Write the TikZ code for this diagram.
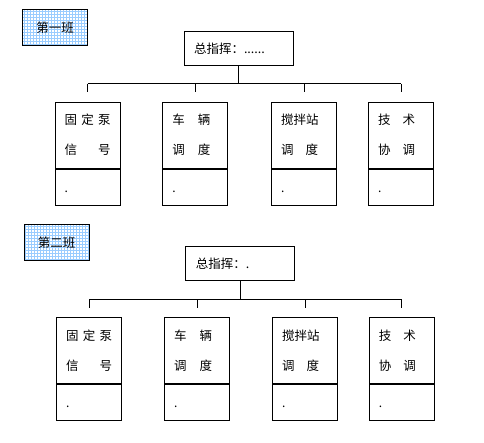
\documentclass[tikz,border=0pt]{standalone}
\usepackage{fontspec}
\setmainfont{Noto Sans CJK SC}
\usepackage{tikz}
\usetikzlibrary{positioning}
\usetikzlibrary{calc}
\definecolor{gridblue}{RGB}{153,204,255}
\tikzstyle{teambox}=[draw,line width=0.9pt,minimum width=65pt,minimum height=36pt,inner sep=0pt,font=\fontsize{12.5}{14}\selectfont,
  path picture={\draw[gridblue,line width=0.55pt,step=3pt] (path picture bounding box.south west) grid (path picture bounding box.north east);}]
\tikzstyle{headbox}=[draw,line width=0.9pt,minimum width=109pt,minimum height=34pt,text width=89pt,inner xsep=10pt,inner ysep=0pt,align=left,text height=11pt,text depth=1pt,font=\fontsize{12.5}{14}\selectfont]
\tikzstyle{jobbox}=[draw,line width=0.9pt,minimum width=65pt,minimum height=66pt,text width=46pt,inner xsep=9.5pt,inner ysep=0pt,align=left,font=\fontsize{12.5}{30}\selectfont]
\tikzstyle{notebox}=[draw,line width=0.9pt,minimum width=65pt,minimum height=36pt,text width=46pt,inner xsep=9.5pt,inner ysep=0pt,align=left,text height=10pt,text depth=0pt,font=\fontsize{12}{14}\selectfont]
\tikzstyle{wire}=[line width=0.9pt]

\begin{document}
\begin{tikzpicture}[x=1pt,y=-1pt]
\useasboundingbox (0,0) rectangle (484,442);

% first team
\node [teambox] (team1) at (55,27.3) {第一班};
\node [headbox] (head1) at (238.5,48) {总指挥：......};
\node [jobbox] (j11) at (87.7,135.2) {\makebox[46pt]{固\hfill 定\hfill 泵}\\ \makebox[46pt]{信\hfill 号}};
\node [jobbox] (j12) at (195.3,135.2) {\makebox[38pt]{车\hfill 辆}\\ \makebox[38pt]{调\hfill 度}};
\node [jobbox] (j13) at (304,135.2) {搅拌站\\ \makebox[37pt]{调\hfill 度}};
\node [jobbox] (j14) at (401,135.2) {\makebox[37pt]{技\hfill 术}\\ \makebox[37pt]{协\hfill 调}};
\node [notebox,below=0pt of j11] (n11) {.};
\node [notebox,below=0pt of j12] (n12) {.};
\node [notebox,below=0pt of j13] (n13) {.};
\node [notebox,below=0pt of j14] (n14) {.};

\coordinate (u11) at ([yshift=18pt]j11.north);
\coordinate (u14) at ([yshift=18pt]j14.north);
\draw [wire] (head1.south) -- (head1.south |- u11);
\draw [wire] (u11) -- (u14);
\foreach \i in {1,2,3,4}
  \draw [wire] ([yshift=18pt]j1\i.north) -- ([yshift=10pt]j1\i.north);

% second team
\node [teambox] (team2) at (56.5,242.3) {第二班};
\node [headbox] (head2) at (240.3,263) {总指挥：.};
\node [jobbox] (j21) at (89,350.5) {\makebox[46pt]{固\hfill 定\hfill 泵}\\ \makebox[46pt]{信\hfill 号}};
\node [jobbox] (j22) at (197,350.5) {\makebox[38pt]{车\hfill 辆}\\ \makebox[38pt]{调\hfill 度}};
\node [jobbox] (j23) at (305,350.5) {搅拌站\\ \makebox[37pt]{调\hfill 度}};
\node [jobbox] (j24) at (401.8,350.5) {\makebox[37pt]{技\hfill 术}\\ \makebox[37pt]{协\hfill 调}};
\node [notebox,below=0pt of j21] (n21) {.};
\node [notebox,below=0pt of j22] (n22) {.};
\node [notebox,below=0pt of j23] (n23) {.};
\node [notebox,below=0pt of j24] (n24) {.};

\coordinate (u21) at ([yshift=18pt]j21.north);
\coordinate (u24) at ([yshift=18pt]j24.north);
\draw [wire] (head2.south) -- (head2.south |- u21);
\draw [wire] (u21) -- (u24);
\foreach \i in {1,2,3,4}
  \draw [wire] ([yshift=18pt]j2\i.north) -- ([yshift=9pt]j2\i.north);
\end{tikzpicture}
\end{document}
